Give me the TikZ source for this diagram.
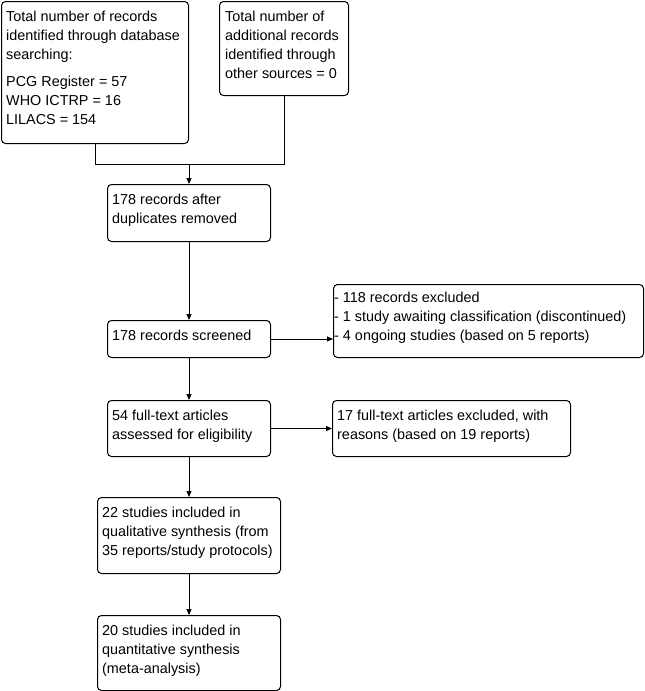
\documentclass[tikz,border=0pt]{standalone}
\usepackage{fontspec}
\setmainfont{Liberation Sans}
\usetikzlibrary{arrows.meta,calc}
\newcommand{\firststrut}{\rule{0pt}{12pt}}
\begin{document}
\begin{tikzpicture}[x=1pt,y=-1pt,
  box/.style={draw=black, line width=1pt, rounded corners=4pt, inner sep=0pt, anchor=north west},
  txt/.style={anchor=north west, inner sep=0pt, align=left, font=\fontsize{14.4}{19}\selectfont},
  conn/.style={draw=black, line width=1pt},
  arr/.style={conn, -{Triangle[length=6pt,width=5pt]}}]
\useasboundingbox (0,0) rectangle (645,691);
% boxes
\node[box, minimum width=187pt, minimum height=142pt] (A) at (1,1) {};
\node[box, minimum width=129pt, minimum height=94pt] (B) at (219,1) {};
\node[box, minimum width=163pt, minimum height=57pt] (C) at (107,184) {};
\node[box, minimum width=163pt, minimum height=37pt] (D) at (107,320) {};
\node[box, minimum width=310pt, minimum height=73pt] (E) at (333,284) {};
\node[box, minimum width=163pt, minimum height=56pt] (F) at (107,400) {};
\node[box, minimum width=238pt, minimum height=56pt] (G) at (332,400) {};
\node[box, minimum width=183pt, minimum height=76pt] (H) at (97,497) {};
\node[box, minimum width=183pt, minimum height=75pt] (I) at (97,615) {};
% texts (first baseline 20pt below box top)
\node[txt] (tA) at ($(A.north west)+(5,8)$) {\firststrut Total number of records\\identified through database\\searching:\\[8.5pt]PCG Register = 57\\WHO ICTRP = 16\\LILACS = 154};
\node[txt] (tB) at ($(B.north west)+(6,8)$) {\firststrut Total number of\\additional records\\identified through\\other sources = 0};
\node[txt] (tC) at ($(C.north west)+(5,8)$) {\firststrut 178 records after\\duplicates removed};
\node[txt] (tD) at ($(D.north west)+(5,8)$) {\firststrut 178 records screened};
\node[txt] (tE) at ($(E.north west)+(1,6)$) {\firststrut - 118 records excluded\\- 1 study awaiting classification (discontinued)\\- 4 ongoing studies (based on 5 reports)};
\node[txt] (tF) at ($(F.north west)+(5,8)$) {\firststrut 54 full-text articles\\assessed for eligibility};
\node[txt] (tG) at ($(G.north west)+(5,8)$) {\firststrut 17 full-text articles excluded, with\\reasons (based on 19 reports)};
\node[txt] (tH) at ($(H.north west)+(5,8)$) {\firststrut 22 studies included in\\qualitative synthesis (from\\35 reports/study protocols)};
\node[txt] (tI) at ($(I.north west)+(5,8)$) {\firststrut 20 studies included in\\quantitative synthesis\\(meta-analysis)};
% connectors
\coordinate (m) at ($(C.north)+(0,-20)$);
\draw[conn] (A.south) |- (m);
\draw[conn] (B.south) |- (m);
\draw[arr] (m) -- (C.north);
\draw[arr] (C.south) -- (D.north);
\draw[arr] (D.east) -- (E.west |- D.east);
\draw[arr] (D.south) -- (F.north);
\draw[arr] (F.east) -- (G.west |- F.east);
\draw[arr] (F.south) -- (F.south |- H.north);
\draw[arr] (H.south) -- (I.north);
\end{tikzpicture}
\end{document}
